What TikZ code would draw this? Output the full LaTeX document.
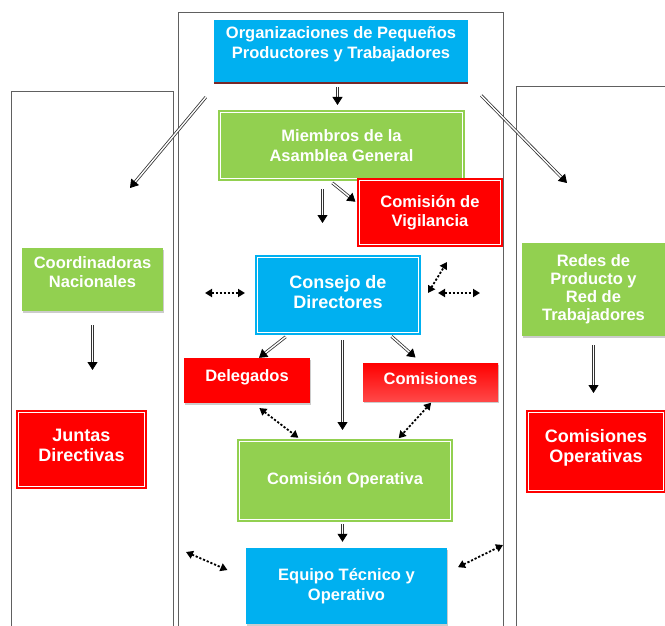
\documentclass[tikz,border=0pt]{standalone}
\usepackage{fontspec}
\setmainfont{Liberation Sans}
\usetikzlibrary{arrows.meta, shadows}

\definecolor{unitblue}{RGB}{0,176,240}
\definecolor{unitgreen}{RGB}{146,208,80}
\definecolor{unitred}{RGB}{255,0,0}
\definecolor{unitrim}{RGB}{120,40,40}

\newcommand{\unitfont}{\fontsize{16.5}{19.5}\selectfont\bfseries}
\newcommand{\unitbigfont}{\fontsize{18}{20.5}\selectfont\bfseries}

\begin{document}
\begin{tikzpicture}[x=1pt, y=-1pt,
    unit/.style={rectangle, text=white, align=center, font=\unitfont, inner sep=2pt},
    ringed/.style={double=white, double distance=1.2pt, line width=2.2pt, outer sep=2.8pt},
    lifted/.style={drop shadow={shadow xshift=1pt, shadow yshift=-1.5pt, opacity=0.4}},
    panel/.style={draw=gray!75!black, line width=0.7pt},
    link/.style={draw=gray!40!black, double=white, double distance=1.4pt, line width=0.8pt, -{Triangle[length=8pt, width=10pt, color=black]}},
    dotlink/.style={line width=1.8pt, dash pattern=on 2.2pt off 1.8pt, {Triangle[length=7pt, width=8pt]}-{Triangle[length=7pt, width=8pt]}}
]

% Background
\useasboundingbox (0,0) rectangle (665,626);
\fill[white] (0,0) rectangle (665,626);

% Panels
\draw[panel] (11,626) |- (173,91) -- (173,626);
\draw[panel] (178,626) |- (503,12) -- (503,626);
\draw[panel] (516,626) |- (666,86);

% Central body
\node[unit, fill=unitblue, minimum width=254pt, minimum height=62pt, text depth=17pt] (org) at (341,51) {Organizaciones de Pequeños\\Productores y Trabajadores};
\draw[unitrim, line width=2pt] ([yshift=-1pt]org.south west) -- ([yshift=-1pt]org.south east);
\node[unit, ringed, fill=unitgreen, draw=unitgreen, minimum width=241.4pt, minimum height=65.4pt] (miembros) at (341.5,145.5) {Miembros de la\\Asamblea General};
\node[unit, ringed, fill=unitred, draw=unitred, minimum width=140.4pt, minimum height=63.4pt] (vig) at (430,212.5) {Comisión de\\Vigilancia};
\node[unit, ringed, fill=unitblue, draw=unitblue, font=\unitbigfont, minimum width=160.4pt, minimum height=74.4pt, text depth=6pt] (consejo) at (338,295) {Consejo de\\Directores};
\node[unit, lifted, fill=unitred, minimum width=126pt, minimum height=45pt, text depth=9pt] (deleg) at (247,380.5) {Delegados};
\node[unit, lifted, top color=unitred, bottom color=unitred!72!white, minimum width=135pt, minimum height=38pt, text depth=6pt] (comis) at (430.5,382) {Comisiones};
\node[unit, ringed, fill=unitgreen, draw=unitgreen, minimum width=210.4pt, minimum height=77.4pt] (comop) at (345,480.5) {Comisión Operativa};
\node[unit, lifted, fill=unitblue, minimum width=201pt, minimum height=76pt] (equipo) at (346.5,586) {Equipo Técnico y\\Operativo};

% Left column
\node[unit, lifted, fill=unitgreen, minimum width=141pt, minimum height=63pt, text depth=15pt] (coord) at (92.5,279.5) {Coordinadoras\\Nacionales};
\node[unit, ringed, fill=unitred, draw=unitred, font=\unitbigfont, minimum width=125.4pt, minimum height=73.4pt, text depth=8pt] (juntas) at (81.5,449.5) {Juntas\\Directivas};

% Right column
\node[unit, lifted, fill=unitgreen, font=\fontsize{16.5}{18}\selectfont\bfseries, minimum width=143pt, minimum height=93pt] (redes) at (593.5,289.5) {Redes de\\Producto y\\Red de\\Trabajadores};
\node[unit, ringed, fill=unitred, draw=unitred, font=\unitbigfont, minimum width=134.4pt, minimum height=77.4pt, text depth=11pt] (comops) at (596,451.5) {Comisiones\\Operativas};

% Free ends
\coordinate (mdown) at (322.5,223);
\coordinate (cdl) at (205,293);
\coordinate (cdr) at (480,293);
\coordinate (cvd) at (447,262);
\coordinate (edl) at (186,552);
\coordinate (edr) at (503,545);
\coordinate (ldiag) at (130,188);
\coordinate (rdiag) at (567,183);

% Connections
\draw[link, shorten <=5pt, shorten >=5pt] ([xshift=-3.5pt]org.south) -- ([xshift=-4pt]miembros.north);
\draw[link, shorten <=8pt] ([xshift=-19pt]miembros.south) -- (mdown);
\draw[link, shorten <=3pt, shorten >=2pt] ([xshift=-11.5pt]miembros.south) -- ([yshift=9.5pt]vig.west);
\draw[link, shorten <=3pt] ([xshift=-50pt]consejo.south) -- ([xshift=12pt]deleg.north);
\draw[link, shorten <=5pt, shorten >=9pt] ([xshift=4.5pt]consejo.south) -- ([xshift=-2.5pt]comop.north);
\draw[link, shorten <=2pt, shorten >=8pt] ([xshift=52pt]consejo.south) -- ([xshift=-9pt]comis.north);
\draw[link, shorten <=2pt, shorten >=6pt] ([xshift=-2.5pt]comop.south) -- ([xshift=-4pt]equipo.north);
\draw[link, shorten <=19.5pt] ([xshift=4.5pt]org.south west) -- (ldiag);
\draw[link, shorten <=18.5pt] (org.south east) -- (rdiag);
\draw[link, shorten <=14pt, shorten >=40pt] (coord.south) -- ([xshift=11pt]juntas.north);
\draw[link, shorten <=9pt, shorten >=17pt] (redes.south) -- ([xshift=-2.5pt]comops.north);

% Dotted two-way links
\draw[dotlink, shorten >=10pt] (cdl) -- ([yshift=2pt]consejo.west);
\draw[dotlink, shorten <=17pt] ([yshift=2pt]consejo.east) -- (cdr);
\draw[dotlink] ([xshift=7pt, yshift=2pt]consejo.east) -- (cvd);
\draw[dotlink, shorten <=8pt, shorten >=2pt] ([xshift=6pt]deleg.south) -- ([xshift=-45pt]comop.north);
\draw[dotlink, shorten <=2pt, shorten >=1pt] ([xshift=2pt]comis.south) -- ([xshift=53pt]comop.north);
\draw[dotlink, shorten >=20pt] (edl) -- ([yshift=8pt]equipo.west);
\draw[dotlink, shorten <=12pt] ([yshift=13.5pt]equipo.east) -- (edr);

\end{tikzpicture}
\end{document}
